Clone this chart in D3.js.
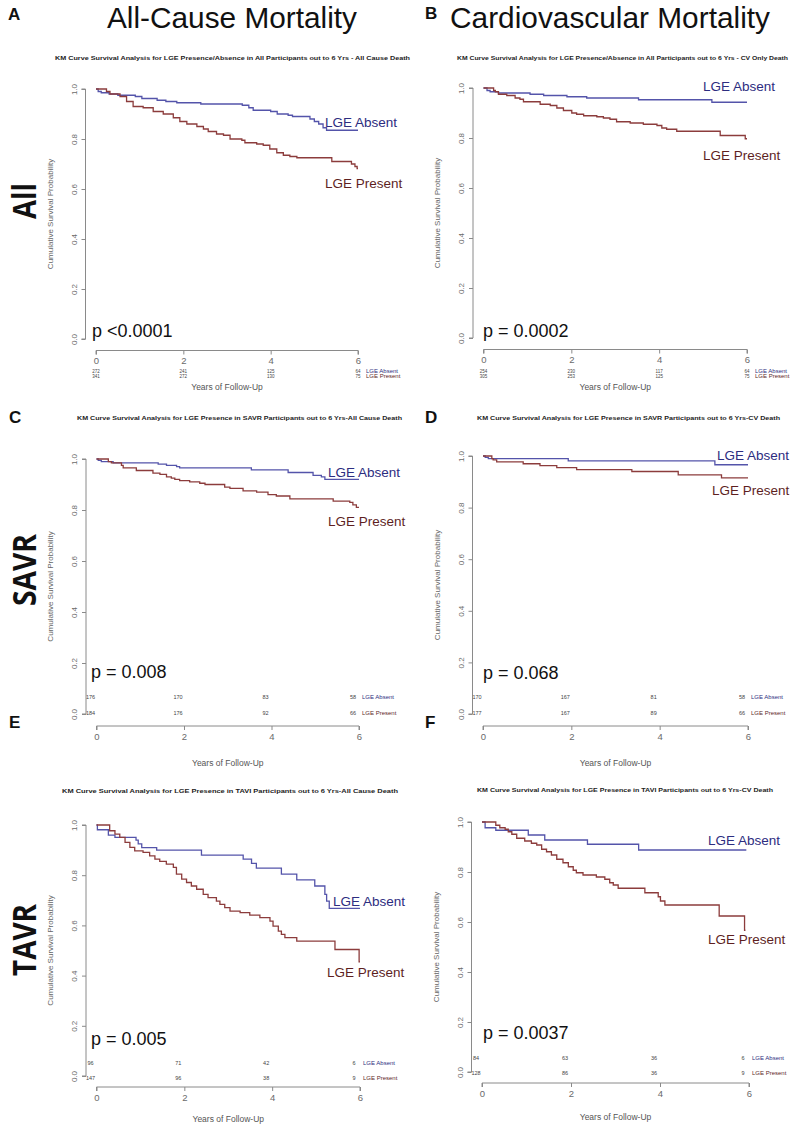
<!DOCTYPE html>
<html><head><meta charset="utf-8">
<script src="https://cdn.jsdelivr.net/npm/d3@7"></script>
<style>body{margin:0;background:#fff}svg{display:block}</style>
</head><body>
<script>
// ---------- DATA ----------
const xTicks = [0, 2, 4, 6];
const yTicks = [0, 0.2, 0.4, 0.6, 0.8, 1.0];
const columnTitles = ["All-Cause Mortality", "Cardiovascular Mortality"];
const rowLabels = ["All", "SAVR", "TAVR"];
const panelLetters = ["A", "B", "C", "D", "E", "F"];
const plotTitles = [
  "KM Curve Survival Analysis for LGE Presence/Absence in All Participants out to 6 Yrs - All Cause Death",
  "KM Curve Survival Analysis for LGE Presence/Absence in All Participants out to 6 Yrs - CV Only Death",
  "KM Curve Survival Analysis for LGE Presence in SAVR Participants out to 6 Yrs-All Cause Death",
  "KM Curve Survival Analysis for LGE Presence in SAVR Participants out to 6 Yrs-CV Death",
  "KM Curve Survival Analysis for LGE Presence in TAVI Participants out to 6 Yrs-All Cause Death",
  "KM Curve Survival Analysis for LGE Presence in TAVI Participants out to 6 Yrs-CV Death"
];
const pValues = ["p <0.0001", "p = 0.0002", "p = 0.008", "p = 0.068", "p = 0.005", "p = 0.0037"];
const groupNames = ["LGE Absent", "LGE Present"];

// Kaplan-Meier step points [years, survival]
const kmA_absent = [[0,1],[0.05,0.99],[0.12,0.985],[0.3,0.98],[0.5,0.975],[0.9,0.97],[1.05,0.962],[1.4,0.955],[1.6,0.95],[1.85,0.945],[2.4,0.94],[3.35,0.935],[3.5,0.925],[3.6,0.915],[4.0,0.91],[4.15,0.9],[4.4,0.895],[4.5,0.89],[4.9,0.88],[5.0,0.87],[5.1,0.86],[5.2,0.845],[5.28,0.835],[6.0,0.835]];
const kmA_present = [[0,1],[0.24,0.99],[0.32,0.98],[0.55,0.97],[0.7,0.95],[0.85,0.93],[1.08,0.925],[1.31,0.91],[1.54,0.9],[1.77,0.885],[1.92,0.87],[2.08,0.86],[2.31,0.85],[2.46,0.84],[2.57,0.83],[2.76,0.82],[2.92,0.815],[3.07,0.8],[3.34,0.795],[3.41,0.785],[3.68,0.78],[3.83,0.775],[3.98,0.76],[4.14,0.745],[4.29,0.735],[4.44,0.73],[4.6,0.725],[5.4,0.71],[5.85,0.7],[5.93,0.69],[5.98,0.682],[6.0,0.682]];
const kmB_absent = [[0,1],[0.08,0.99],[0.15,0.985],[0.34,0.98],[1.06,0.975],[1.37,0.97],[1.9,0.965],[2.35,0.96],[3.53,0.953],[5.2,0.943],[6.0,0.943]];
const kmB_present = [[0,1],[0.23,0.99],[0.27,0.985],[0.34,0.975],[0.53,0.97],[0.72,0.96],[0.83,0.955],[0.91,0.945],[1.29,0.935],[1.52,0.93],[1.67,0.92],[1.82,0.91],[2.01,0.9],[2.12,0.895],[2.28,0.889],[2.58,0.885],[2.73,0.88],[2.88,0.875],[3.03,0.865],[3.34,0.86],[3.64,0.855],[3.95,0.85],[4.06,0.84],[4.17,0.835],[4.4,0.827],[5.39,0.81],[5.96,0.797],[6.0,0.797]];
const kmC_absent = [[0,1],[0.04,0.995],[0.11,0.99],[0.38,0.985],[1.41,0.98],[1.6,0.975],[1.83,0.97],[1.9,0.965],[3.54,0.957],[4.38,0.947],[4.95,0.936],[5.14,0.93],[5.22,0.92],[6.0,0.92]];
const kmC_present = [[0,1],[0.27,0.99],[0.34,0.985],[0.57,0.975],[0.61,0.965],[0.91,0.955],[1.29,0.945],[1.45,0.94],[1.6,0.93],[1.71,0.925],[1.79,0.92],[1.9,0.915],[2.13,0.91],[2.36,0.905],[2.48,0.9],[2.93,0.89],[3.05,0.885],[3.35,0.875],[3.66,0.87],[3.92,0.86],[4.11,0.855],[4.42,0.844],[5.41,0.835],[5.79,0.83],[5.86,0.82],[5.94,0.81],[6.0,0.81]];
const kmD_absent = [[0,1],[0.05,0.995],[0.12,0.99],[1.93,0.981],[5.25,0.966],[6.0,0.966]];
const kmD_present = [[0,1],[0.2,0.99],[0.23,0.985],[0.31,0.977],[0.91,0.97],[1.29,0.963],[1.67,0.955],[2.12,0.947],[3.37,0.94],[4.42,0.927],[5.4,0.915],[6.0,0.915]];
const kmE_absent = [[0,1],[0.02,0.981],[0.27,0.96],[0.42,0.951],[0.9,0.94],[0.95,0.925],[1.03,0.91],[1.37,0.9],[2.39,0.88],[3.34,0.864],[3.53,0.847],[3.64,0.828],[4.21,0.804],[4.56,0.781],[4.97,0.757],[5.2,0.724],[5.24,0.697],[5.3,0.668],[6.0,0.668]];
const kmE_present = [[0,1],[0.3,0.977],[0.42,0.964],[0.53,0.951],[0.65,0.931],[0.76,0.911],[0.87,0.897],[1.06,0.891],[1.21,0.877],[1.33,0.864],[1.44,0.855],[1.59,0.844],[1.75,0.831],[1.82,0.804],[1.94,0.784],[2.05,0.771],[2.16,0.757],[2.28,0.744],[2.43,0.724],[2.54,0.711],[2.73,0.697],[2.81,0.684],[2.92,0.671],[3.04,0.657],[3.27,0.651],[3.49,0.641],[3.72,0.631],[3.95,0.617],[4.02,0.597],[4.14,0.577],[4.21,0.564],[4.29,0.551],[4.56,0.537],[5.43,0.504],[5.98,0.455],[6.0,0.455]];
const kmF_absent = [[0,1],[0.07,0.977],[0.31,0.967],[1.04,0.948],[1.41,0.928],[2.37,0.911],[3.52,0.888],[5.94,0.888]];
const kmF_present = [[0,1],[0.31,0.987],[0.4,0.977],[0.52,0.971],[0.59,0.961],[0.67,0.951],[0.78,0.935],[0.96,0.924],[1.11,0.915],[1.23,0.908],[1.34,0.891],[1.45,0.881],[1.56,0.868],[1.68,0.851],[1.82,0.837],[1.94,0.821],[2.05,0.807],[2.12,0.797],[2.27,0.788],[2.57,0.78],[2.76,0.771],[2.87,0.757],[2.95,0.748],[3.06,0.735],[3.66,0.717],[3.96,0.701],[4.01,0.684],[4.11,0.668],[5.33,0.624],[5.9,0.567],[5.92,0.567]];

// numbers at risk at 0, 2, 4, 6 years
const riskA_absent = [272, 241, 125, 64], riskA_present = [341, 272, 130, 75];
const riskB_absent = [254, 230, 117, 64], riskB_present = [305, 253, 125, 75];
const riskC_absent = [176, 170, 83, 58], riskC_present = [184, 176, 92, 66];
const riskD_absent = [170, 167, 81, 58], riskD_present = [177, 167, 89, 66];
const riskE_absent = [96, 71, 42, 6], riskE_present = [147, 96, 38, 9];
const riskF_absent = [84, 63, 36, 6], riskF_present = [128, 86, 36, 9];

// ---------- LAYOUT ----------
const W = 800, H = 1135;
const colAbsLine = "#5454aa", colPreLine = "#8c3c3c";
const colAbsText = "#2d2d80", colPreText = "#5e1f1f";
const axisCol = "#8a8a8a", tickText = "#6a6a6a";
const F = "'Liberation Sans', Arial, sans-serif";

const panels = [
  {abs: kmA_absent, pre: kmA_present, rAbs: riskA_absent, rPre: riskA_present,
   xr: [96, 358], yr: [339, 89], axY: 350.5, axX: 85.5, riskMode: "below", riskY: [373, 378],
   labAbs: [325, 127], labPre: [325, 188], pPos: [92, 337], tY: 60, tX: [55, 410], letter: [8, 20], xlabY: 390},
  {abs: kmB_absent, pre: kmB_present, rAbs: riskB_absent, rPre: riskB_present,
   xr: [483.5, 747], yr: [338, 88], axY: 349.5, axX: 473, riskMode: "below", riskY: [373, 378],
   labAbs: [703, 91], labPre: [703, 160], pPos: [483, 337], tY: 60, tX: [457, 788], letter: [425, 19], xlabY: 390},
  {abs: kmC_absent, pre: kmC_present, rAbs: riskC_absent, rPre: riskC_present,
   xr: [96.5, 359], yr: [714, 459], axY: 726, axX: 86, riskMode: "inside", riskY: [699, 715],
   labAbs: [328, 477], labPre: [328, 526], pPos: [91, 678], tY: 420, tX: [77, 402], letter: [9, 423], xlabY: 766},
  {abs: kmD_absent, pre: kmD_present, rAbs: riskD_absent, rPre: riskD_present,
   xr: [483, 748], yr: [714, 456], axY: 726, axX: 472.5, riskMode: "inside", riskY: [699, 715],
   labAbs: [717, 460], labPre: [712, 495], pPos: [483, 679], tY: 420, tX: [477, 780], letter: [425, 423], xlabY: 766},
  {abs: kmE_absent, pre: kmE_present, rAbs: riskE_absent, rPre: riskE_present,
   xr: [96.5, 360], yr: [1076, 825], axY: 1087, axX: 86, riskMode: "inside", riskY: [1065, 1080],
   labAbs: [333, 906], labPre: [327, 977], pPos: [91, 1045], tY: 793, tX: [62, 398], letter: [9, 728], xlabY: 1122},
  {abs: kmF_absent, pre: kmF_present, rAbs: riskF_absent, rPre: riskF_present,
   xr: [482, 749], yr: [1072, 822], axY: 1083, axX: 471.5, riskMode: "inside", riskY: [1060, 1075],
   labAbs: [708, 845], labPre: [708, 944], pPos: [483, 1039], tY: 792, tX: [477, 773], letter: [425, 728], xlabY: 1120}
];

const svg = d3.select("body").append("svg").attr("width", W).attr("height", H)
  .style("font-family", F);

// column headings
svg.append("text").attr("x", 107).attr("y", 28).attr("textLength", 250).attr("lengthAdjust", "spacingAndGlyphs")
  .style("font-family", F).style("font-size", "29px").attr("fill", "#111").text(columnTitles[0]);
svg.append("text").attr("x", 450).attr("y", 28).attr("textLength", 320).attr("lengthAdjust", "spacingAndGlyphs")
  .style("font-family", F).style("font-size", "29px").attr("fill", "#111").text(columnTitles[1]);

// row labels
const rowCenters = [201, 570, 940];
const rowLens = [36, 72, 72];
rowLabels.forEach((r, i) => {
  svg.append("text").attr("transform", `translate(36,${rowCenters[i]}) rotate(-90)`)
    .attr("text-anchor", "middle").attr("textLength", rowLens[i]).attr("lengthAdjust", "spacingAndGlyphs")
    .style("font-family", "'Open Sans', 'Noto Sans', sans-serif").style("font-weight", "bold").style("font-size", "33px")
    .attr("fill", "#111").text(r);
});

panels.forEach((p, i) => {
  const g = svg.append("g");
  const x = d3.scaleLinear().domain([0, 6]).range(p.xr);
  const y = d3.scaleLinear().domain([0, 1]).range(p.yr);

  // panel letter
  g.append("text").attr("x", p.letter[0]).attr("y", p.letter[1]).style("font-weight", "bold")
    .style("font-size", "17px").attr("fill", "#111").text(panelLetters[i]);
  // plot title
  g.append("text").attr("x", p.tX[0]).attr("y", p.tY).attr("textLength", p.tX[1] - p.tX[0])
    .attr("lengthAdjust", "spacingAndGlyphs").style("font-weight", "bold").style("font-size", "6px")
    .attr("fill", "#222").text(plotTitles[i]);

  // y axis
  const ya = g.append("g").attr("transform", `translate(${p.axX},0)`)
    .call(d3.axisLeft(y).tickValues(yTicks).tickFormat(d3.format(".1f")).tickSize(4).tickPadding(3));
  ya.select(".domain").attr("stroke", axisCol).attr("d", `M-4,${y(0)}H0V${y(1)}H-4`);
  ya.selectAll(".tick line").attr("stroke", axisCol);
  ya.selectAll(".tick text").attr("fill", tickText).style("font-size", "8px").style("font-family", F)
    .attr("text-anchor", "middle").attr("x", null).attr("dy", null)
    .attr("transform", "translate(-9,0) rotate(-90)");
  g.append("text").attr("transform", `translate(${p.axX - 33},${(y(0) + y(1)) / 2}) rotate(-90)`)
    .attr("text-anchor", "middle").style("font-size", "8px").attr("fill", "#666").text("Cumulative Survival Probability");

  // x axis
  const xa = g.append("g").attr("transform", `translate(0,${p.axY})`)
    .call(d3.axisBottom(x).tickValues(xTicks).tickFormat(d3.format("d")).tickSize(4).tickPadding(3));
  xa.select(".domain").attr("stroke", axisCol).attr("d", `M${x(0)},4V0H${x(6)}V4`);
  xa.selectAll(".tick line").attr("stroke", axisCol);
  xa.selectAll(".tick text").attr("fill", tickText).style("font-size", "9.5px").style("font-family", F);
  g.append("text").attr("x", (x(0) + x(6)) / 2).attr("y", p.xlabY).attr("text-anchor", "middle")
    .style("font-size", "8.5px").attr("fill", "#555").text("Years of Follow-Up");

  // curves
  const line = d3.line().x(d => x(d[0])).y(d => y(d[1])).curve(d3.curveStepAfter);
  g.append("path").datum(p.abs).attr("d", line).attr("fill", "none").attr("stroke", colAbsLine).attr("stroke-width", 1.3);
  g.append("path").datum(p.pre).attr("d", line).attr("fill", "none").attr("stroke", colPreLine).attr("stroke-width", 1.3);

  // curve labels
  g.append("text").attr("x", p.labAbs[0]).attr("y", p.labAbs[1]).style("font-size", "13.5px").attr("fill", colAbsText).text(groupNames[0]);
  g.append("text").attr("x", p.labPre[0]).attr("y", p.labPre[1]).style("font-size", "13.5px").attr("fill", colPreText).text(groupNames[1]);

  // p value
  g.append("text").attr("x", p.pPos[0]).attr("y", p.pPos[1]).style("font-size", "18px").attr("fill", "#111").text(pValues[i]);

  // numbers at risk
  const below = p.riskMode === "below";
  const nFont = below ? "4.5px" : "5.5px";
  const dx = below ? 0 : -6;
  [[p.rAbs, colAbsText, 0], [p.rPre, colPreText, 1]].forEach(([arr, col, k]) => {
    g.selectAll(null).data(arr).enter().append("text")
      .attr("x", (d, j) => x(xTicks[j]) + dx).attr("y", p.riskY[k]).attr("text-anchor", "middle")
      .style("font-size", nFont).attr("fill", "#444").text(d => d);
    g.append("text").attr("x", x(6) + (below ? 8 : 3)).attr("y", p.riskY[k]).style("font-size", "6px")
      .attr("fill", col).text(groupNames[k]);
  });
});
</script>
</body></html>
